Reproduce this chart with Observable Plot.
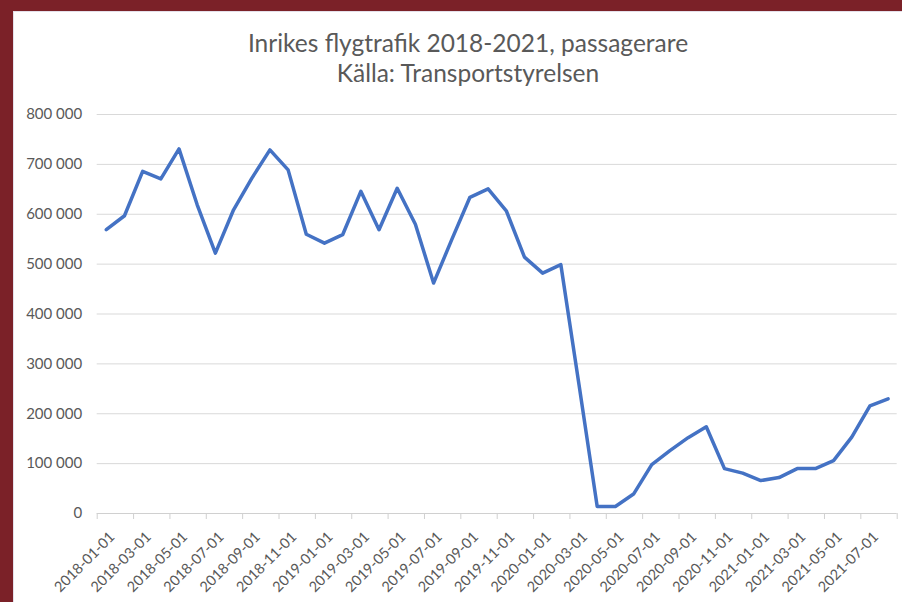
<!DOCTYPE html>
<html>
<head>
<meta charset="utf-8">
<script src="https://cdn.jsdelivr.net/npm/d3@7"></script>
<script src="https://cdn.jsdelivr.net/npm/@observablehq/plot@0.6"></script>
<style>
  html, body { margin: 0; padding: 0; width: 902px; height: 602px; overflow: hidden; background: #7b2128; }
  #panel { position: absolute; left: 13px; top: 11px; width: 889px; height: 591px; background: #fff; border-left: 1px solid #e4e0ea; border-top: 1px solid #e4e0ea; box-sizing: border-box; }
  #title { position: absolute; left: 34px; width: 868px; top: 27.5px; text-align: center; font-family: Lato, sans-serif; font-size: 24.5px; line-height: 30px; color: #595959; }
  #chart { position: absolute; left: 0; top: 95px; }
</style>
</head>
<body>
<div id="panel"></div>
<div id="title">Inrikes flygtrafik 2018-2021, passagerare<br>Källa: Transportstyrelsen</div>
<div id="chart"></div>
<script>
const months = [
  "2018-01-01","2018-02-01","2018-03-01","2018-04-01","2018-05-01","2018-06-01","2018-07-01","2018-08-01","2018-09-01","2018-10-01","2018-11-01","2018-12-01",
  "2019-01-01","2019-02-01","2019-03-01","2019-04-01","2019-05-01","2019-06-01","2019-07-01","2019-08-01","2019-09-01","2019-10-01","2019-11-01","2019-12-01",
  "2020-01-01","2020-02-01","2020-03-01","2020-04-01","2020-05-01","2020-06-01","2020-07-01","2020-08-01","2020-09-01","2020-10-01","2020-11-01","2020-12-01",
  "2021-01-01","2021-02-01","2021-03-01","2021-04-01","2021-05-01","2021-06-01","2021-07-01","2021-08-01"
];
const passengers = [
  569000, 597000, 686000, 671000, 731000, 619000, 522000, 609000, 672000, 729000, 689000, 560000,
  542000, 559000, 646000, 569000, 652000, 580000, 462000, 549000, 634000, 651000, 607000, 514000,
  482000, 499000, 258000, 14000, 14000, 39000, 98000, 126000, 152000, 174000, 90000, 81000,
  66000, 72000, 90000, 90000, 106000, 153000, 216000, 230000
];
const yTicks = [0, 100000, 200000, 300000, 400000, 500000, 600000, 700000, 800000];
const yTickLabels = ["0", "100 000", "200 000", "300 000", "400 000", "500 000", "600 000", "700 000", "800 000"];

const data = months.map((m, i) => ({month: m, idx: i, value: passengers[i]}));
const labelData = months.map((m, i) => ({label: m, idx: i})).filter(d => d.idx % 2 === 0);
const boundaryTicks = d3.range(0, months.length + 1, 2);

const chart = Plot.plot({
  width: 902,
  height: 507,
  marginLeft: 96.7,
  marginRight: 5.3,
  marginTop: 19,
  marginBottom: 89,
  style: {fontFamily: "Lato, sans-serif", fontSize: "15px", color: "#595959", background: "transparent"},
  x: {type: "linear", domain: [0, months.length], label: null},
  y: {domain: [0, 800000], label: null},
  marks: [
    Plot.gridY(yTicks.filter(d => d > 0), {stroke: "#d9d9d9", strokeOpacity: 1, strokeWidth: 1}),
    Plot.axisY(yTicks, {tickSize: 0, tickPadding: 15, label: null, tickFormat: (d, i) => yTickLabels[i], fill: "#595959", fontSize: 15}),
    Plot.ruleY([0], {stroke: "#d0d0d0", strokeWidth: 1}),
    Plot.axisX(boundaryTicks, {tickSize: 6, label: null, tickFormat: () => "", stroke: "#d0d0d0", strokeOpacity: 1}),
    Plot.line(data, {x: d => d.idx + 0.5, y: "value", stroke: "#4472c4", strokeWidth: 3.5, strokeLinejoin: "round", strokeLinecap: "round"}),
    Plot.text(labelData, {x: d => d.idx + 0.5, text: "label", frameAnchor: "bottom", dy: 17, dx: 2, rotate: -45, textAnchor: "end", lineAnchor: "top", fill: "#595959", fontSize: 14.5})
  ]
});
document.getElementById("chart").appendChild(chart);
</script>
</body>
</html>
